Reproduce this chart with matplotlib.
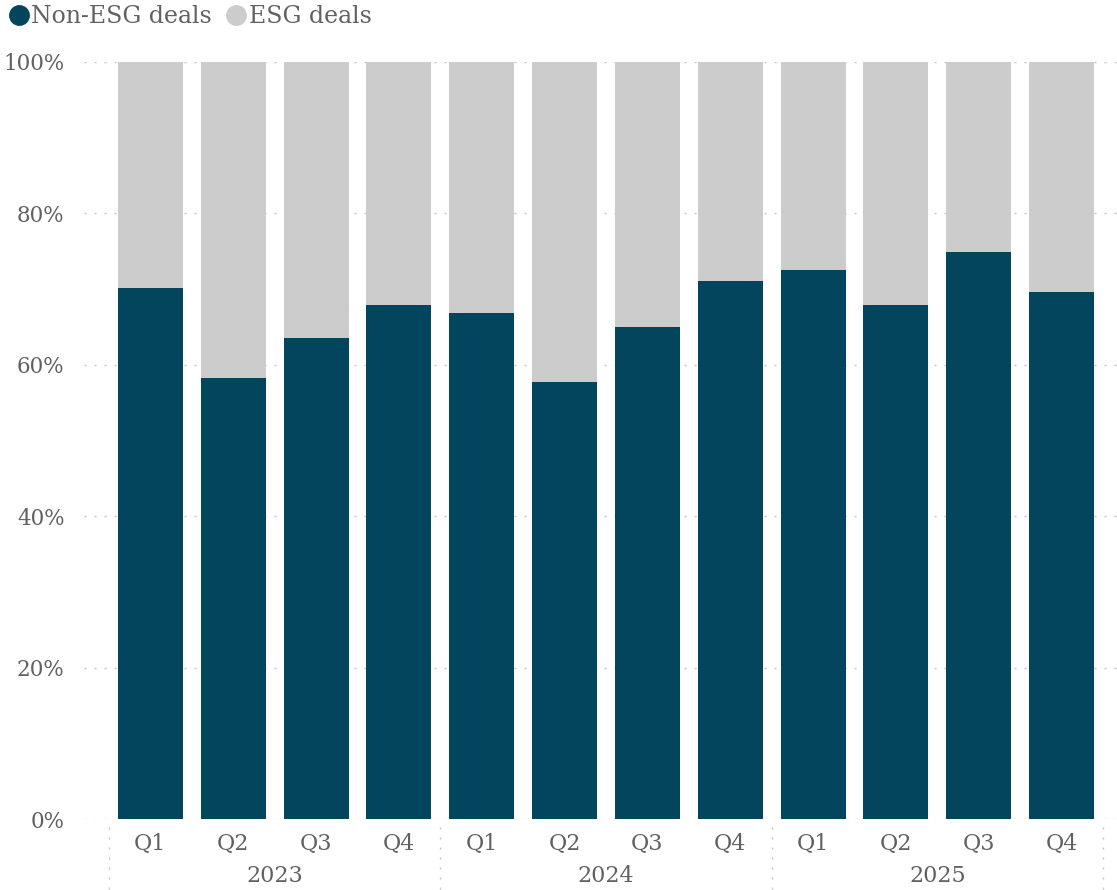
import matplotlib
matplotlib.use("Agg")
import matplotlib.pyplot as plt
from matplotlib.lines import Line2D
import numpy as np

quarters = ["Q1", "Q2", "Q3", "Q4"] * 3
years = ["2023", "2024", "2025"]
non_esg = [70.1, 58.3, 63.5, 67.9, 66.8, 57.7, 65.0, 71.1, 72.5, 67.9, 74.9, 69.6]
esg = [100 - v for v in non_esg]
yticks = [0, 20, 40, 60, 80, 100]

dark = "#02455c"
light = "#cccccc"
txt = "#616161"
dots = "#c4c4c4"

plt.rcParams["font.family"] = ["DejaVu Serif"]

fig = plt.figure(figsize=(11.17, 8.90), dpi=100)
ax = fig.add_axes([84 / 1117, 1 - 819 / 890, 1 - 84 / 1117, (819 - 62) / 890])

x = np.arange(len(non_esg))
ax.bar(x, non_esg, width=0.785, color=dark, zorder=3)
ax.bar(x, esg, width=0.785, bottom=non_esg, color=light, zorder=3)

for t in yticks:
    ax.axhline(t, color=dots, lw=1.0, dashes=(1.5, 5.7), zorder=1)

ax.set_xlim(-0.802, 11.669)
ax.set_ylim(0, 100)
ax.set_yticks(yticks)
ax.set_yticklabels([f"{t}%" for t in yticks])
ax.set_xticks(x)
ax.set_xticklabels(quarters)
ax.tick_params(axis="both", length=0, labelsize=15.5, labelcolor=txt)
ax.tick_params(axis="x", labelsize=16)
ax.tick_params(axis="y", pad=14)
ax.tick_params(axis="x", pad=10)
for s in ax.spines.values():
    s.set_visible(False)

# year groups and separators
trans = ax.get_xaxis_transform()
for i in range(4):
    ax.plot([i * 4 - 0.5, i * 4 - 0.5], [-0.01, -0.094], transform=trans,
            color=dots, lw=1.0, dashes=(1.5, 5.7), clip_on=False)
for i, yr in enumerate(years):
    ax.text(i * 4 + 1.5, -0.075, yr, transform=trans, ha="center", va="center",
            fontsize=16, color=txt)

handles = [
    Line2D([], [], marker="o", ls="", color=dark, markersize=14, label="Non-ESG deals"),
    Line2D([], [], marker="o", ls="", color=light, markersize=14, label="ESG deals"),
]
leg = fig.legend(handles=handles, loc="upper left", bbox_to_anchor=(0.006, 0.997), ncol=2,
                 frameon=False, handlelength=0.8, handletextpad=0.15, columnspacing=0.6,
                 borderaxespad=0, borderpad=0.1, fontsize=17)
for t in leg.get_texts():
    t.set_color(txt)

fig.savefig("out.png", dpi=100)
